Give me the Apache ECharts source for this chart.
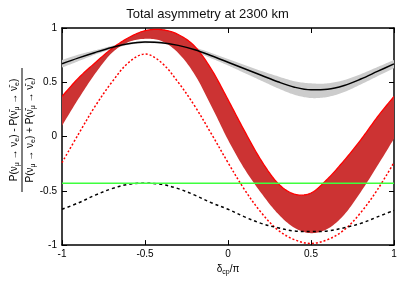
<!DOCTYPE html>
<html><head><meta charset="utf-8">
<script src="https://cdn.jsdelivr.net/npm/echarts@6/dist/echarts.min.js"></script>
<style>html,body{margin:0;padding:0;background:#fff}#c{width:415px;height:281px}</style>
</head><body><div id="c"></div>
<script>
// x positions (delta_cp / pi)
const delta = [-1, -0.9, -0.8, -0.7, -0.6, -0.5, -0.4, -0.3, -0.2, -0.1, 0, 0.1, 0.2, 0.3, 0.4, 0.5, 0.6, 0.7, 0.8, 0.9, 1];
// black solid curve and its grey band
const blackSolid = [0.67, 0.725, 0.775, 0.82, 0.855, 0.87, 0.865, 0.84, 0.80, 0.745, 0.685, 0.625, 0.565, 0.505, 0.455, 0.43, 0.435, 0.47, 0.53, 0.60, 0.67];
const grayHi = [0.705, 0.755, 0.795, 0.835, 0.865, 0.88, 0.875, 0.855, 0.82, 0.77, 0.715, 0.66, 0.605, 0.555, 0.51, 0.49, 0.49, 0.52, 0.575, 0.64, 0.705];
const grayLo = [0.635, 0.695, 0.755, 0.805, 0.845, 0.86, 0.855, 0.825, 0.78, 0.72, 0.655, 0.585, 0.515, 0.445, 0.385, 0.355, 0.365, 0.41, 0.48, 0.555, 0.63];
// red band edges
const redUpper = [0.37, 0.54, 0.68, 0.81, 0.91, 0.975, 0.985, 0.94, 0.83, 0.62, 0.34, 0.05, -0.22, -0.43, -0.53, -0.52, -0.39, -0.22, -0.03, 0.18, 0.37];
const redLower = [0.10, 0.35, 0.58, 0.77, 0.87, 0.90, 0.88, 0.77, 0.57, 0.28, -0.03, -0.30, -0.52, -0.71, -0.84, -0.89, -0.85, -0.72, -0.51, -0.27, -0.02];
// dotted / dashed curves
const redDotted = [-0.24, 0.025, 0.28, 0.50, 0.68, 0.76, 0.68, 0.50, 0.28, 0.025, -0.24, -0.49, -0.70, -0.86, -0.95, -0.985, -0.95, -0.86, -0.70, -0.49, -0.24];
const blackDashed = [-0.67, -0.61, -0.54, -0.48, -0.44, -0.43, -0.44, -0.48, -0.54, -0.61, -0.67, -0.74, -0.80, -0.84, -0.87, -0.875, -0.87, -0.84, -0.80, -0.74, -0.68];
// horizontal green level
const greenLevel = [-0.43];
const greenX = [-1, 1];
// tick labels
const xTickLabels = ['-1', '-0.5', '0', '0.5', '1'];
const yTickLabels = ['-1', '-0.5', '0', '0.5', '1'];

const FONT = 'Liberation Sans';
const pairs = ys => delta.map((d, i) => [d, ys[i]]);
const tickFmt = labels => v => labels[Math.round((v + 1) / 0.5)];

// Catmull-Rom smoothing of pixel points (rendering only)
function spline(pts, steps) {
  const out = [];
  const n = pts.length;
  for (let i = 0; i < n - 1; i++) {
    const p0 = pts[Math.max(i - 1, 0)], p1 = pts[i], p2 = pts[i + 1], p3 = pts[Math.min(i + 2, n - 1)];
    for (let t = 0; t < steps; t++) {
      const s = t / steps, s2 = s * s, s3 = s2 * s;
      const f = k => 0.5 * (2 * p1[k] + (-p0[k] + p2[k]) * s + (2 * p0[k] - 5 * p1[k] + 4 * p2[k] - p3[k]) * s2 + (-p0[k] + 3 * p1[k] - 3 * p2[k] + p3[k]) * s3);
      out.push([f(0), f(1)]);
    }
  }
  out.push(pts[n - 1]);
  return out;
}

function bandSeries(hi, lo, fill, edge) {
  return {
    type: 'custom', coordinateSystem: 'cartesian2d', xAxisIndex: 0, yAxisIndex: 0,
    data: [[0, 0]], clip: true, silent: true,
    renderItem: (params, api) => {
      const up = spline(delta.map((d, i) => api.coord([d, hi[i]])), 12);
      const dn = spline(delta.map((d, i) => api.coord([d, lo[i]])), 12);
      const children = [{ type: 'polygon', shape: { points: up.concat(dn.slice().reverse()) }, style: { fill: fill, stroke: null } }];
      if (edge) children.push({ type: 'polyline', shape: { points: up }, style: { stroke: edge, lineWidth: 1.3, fill: null } });
      return { type: 'group', children };
    }
  };
}

const axisLine = { onZero: false, lineStyle: { color: '#000', width: 1.5 } };
const axisTick = { inside: true, length: 5, lineStyle: { color: '#000', width: 1 } };

const chart = echarts.init(document.getElementById('c'), null, { renderer: 'canvas' });
const sub = { fontSize: 7, lineHeight: 7, verticalAlign: 'bottom', fontFamily: FONT, color: '#000' };
const main = { fontSize: 10, lineHeight: 14, fontFamily: FONT, color: '#000' };
const nb = 'ν\u0304';
const numer = '{m|P(ν}{s|μ}{m| → ν}{s|e}{m|) - P(' + nb + '}{s|μ}{m| → ' + nb + '}{s|e}{m|)}';
const denom = '{m|P(ν}{s|μ}{m| → ν}{s|e}{m|) + P(' + nb + '}{s|μ}{m| → ' + nb + '}{s|e}{m|)}';
const SM = 0.35;

chart.setOption({
  animation: false,
  backgroundColor: '#fff',
  title: {
    text: 'Total asymmetry at 2300 km', left: 'center', top: 3,
    textStyle: { fontSize: 13, fontWeight: 'normal', color: '#111', fontFamily: FONT }
  },
  grid: { left: 62, right: 21, top: 28, bottom: 28 },
  xAxis: [
    {
      type: 'value', min: -1, max: 1, interval: 0.5, position: 'bottom',
      axisLine, axisTick, splitLine: { show: false },
      axisLabel: { margin: 4, color: '#000', fontSize: 10, fontFamily: FONT, formatter: tickFmt(xTickLabels) },
      name: '{d|δ}{s|cp}{d|/π}', nameLocation: 'middle', nameGap: 16,
      nameTextStyle: { rich: { d: { fontSize: 10, lineHeight: 14, fontFamily: FONT, color: '#000' }, s: sub } }
    },
    {
      type: 'value', min: -1, max: 1, interval: 0.5, position: 'top',
      axisLine, axisTick, splitLine: { show: false }, axisLabel: { show: false }
    }
  ],
  yAxis: [
    {
      type: 'value', min: -1, max: 1, interval: 0.5, position: 'left',
      axisLine, axisTick, splitLine: { show: false },
      axisLabel: { margin: 5, color: '#000', fontSize: 10, fontFamily: FONT, formatter: tickFmt(yTickLabels) }
    },
    {
      type: 'value', min: -1, max: 1, interval: 0.5, position: 'right',
      axisLine, axisTick, splitLine: { show: false }, axisLabel: { show: false }
    }
  ],
  graphic: [{
    type: 'group', x: 22, y: 130, rotation: Math.PI / 2,
    children: [
      { type: 'text', x: 0, y: -1, style: { text: numer, rich: { m: main, s: sub }, align: 'center', verticalAlign: 'bottom' } },
      { type: 'line', shape: { x1: -62, y1: 0, x2: 62, y2: 0 }, style: { stroke: '#000', lineWidth: 1 } },
      { type: 'text', x: 0, y: 1, style: { text: denom, rich: { m: main, s: sub }, align: 'center', verticalAlign: 'top' } }
    ]
  }],
  series: [
    bandSeries(grayHi, grayLo, '#cccccc', null),
    bandSeries(redUpper, redLower, 'rgb(204,51,51)', '#ff0000'),
    { type: 'line', data: pairs(blackSolid), smooth: SM, symbol: 'none', lineStyle: { color: '#000', width: 1.5 } },
    { type: 'line', data: pairs(redDotted), smooth: SM, symbol: 'none', lineStyle: { color: '#ff0000', width: 1.5, type: [2, 2] } },
    { type: 'line', data: pairs(blackDashed), smooth: SM, symbol: 'none', lineStyle: { color: '#000', width: 1.5, type: [3, 3] } },
    { type: 'line', data: greenX.map(x => [x, greenLevel[0]]), symbol: 'none', lineStyle: { color: '#3dff3d', width: 1.3 } }
  ]
});
</script></body></html>
